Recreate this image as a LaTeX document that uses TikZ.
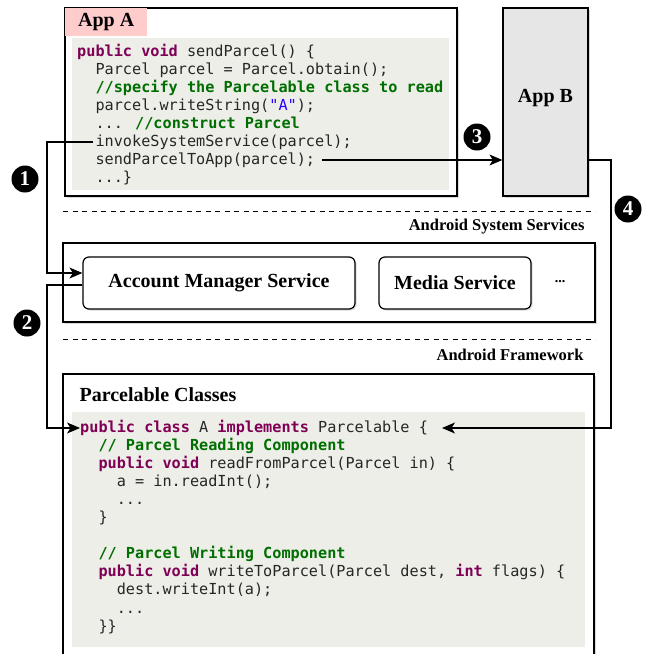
\documentclass[tikz,border=0pt]{standalone}
\usepackage{fontspec}
\setmainfont{Liberation Serif}
\newfontfamily\codefont{DejaVu Sans Mono}
\usetikzlibrary{arrows.meta, positioning, calc, shadows}

\definecolor{codebg}{HTML}{EEEEE9}
\definecolor{titlepink}{HTML}{FFCCCC}
\definecolor{appgray}{HTML}{E6E6E6}
\definecolor{kwpurple}{RGB}{127,0,85}
\definecolor{cmgreen}{RGB}{0,110,0}
\definecolor{strblue}{RGB}{42,0,255}

\newcommand{\kw}[1]{\textcolor{kwpurple}{\bfseries #1}}
\newcommand{\cmt}[1]{\textcolor{cmgreen}{\bfseries #1}}
\newcommand{\strlit}[1]{\textcolor{strblue}{#1}}
\newcommand{\indt}[1]{\hspace*{#1\dimexpr 0.602em\relax}}

\begin{document}
\begin{tikzpicture}[
        x=1pt, y=-1pt,
        every node/.style={font=\fontsize{20}{24}\selectfont\bfseries},
        panel/.style={rectangle,draw,line width=1.2pt,fill=white,inner sep=0,
          drop shadow={shadow xshift=1.5pt,shadow yshift=-1.5pt,opacity=0.3}},
        service/.style={panel,rounded corners=6pt},
        codebox/.style={rectangle,fill=codebg,inner sep=0},
        code/.style={font=\codefont\fontsize{15.2}{18.1}\selectfont,align=left,
          inner sep=0,anchor=north west,text=black!85},
        layer/.style={font=\fontsize{16.5}{20}\selectfont\bfseries,anchor=east},
        badge/.style={circle,fill=black,text=white,inner sep=0,minimum size=27pt,
          font=\fontsize{21}{22}\selectfont\bfseries},
        sepline/.style={dashed,dash pattern=on 5pt off 4.5pt,line width=1pt},
        flow/.style={draw,line width=1.1pt,-{Stealth[length=13pt,width=11pt,inset=3.5pt]}}
      ]
      \useasboundingbox (0,0) rectangle (646,654);

      % App A with its code
      \node[panel,minimum width=392,minimum height=188] (appA) at (261,102) {};
      \node[fill=titlepink,anchor=north west,minimum width=82,minimum height=28,inner sep=0]
        (titleA) at ([xshift=0.6pt,yshift=-0.6pt]appA.north west) {App A};
      \node[codebox,minimum width=377,minimum height=152] (bgA) at (260.5,114) {};
      \node[code] (codeA) at (77,43.5) {%
        \kw{public void} sendParcel() \{\\
        \indt{2}Parcel parcel = Parcel.obtain();\\
        \indt{2}\cmt{//specify the Parcelable class to read}\\
        \indt{2}parcel.writeString(\strlit{"A"});\\
        \indt{2}... \cmt{//construct Parcel}\\
        \indt{2}invokeSystemService(parcel);\\
        \indt{2}sendParcelToApp(parcel);\\
        \indt{2}...\}};

      % App B
      \node[panel,fill=appgray,minimum width=85,minimum height=188] (appB) at (545.5,102) {};
      \node (appBlabel) at (545.5,98) {App B};

      % system services layer
      \draw[sepline] (63,211) -- (595,211);
      \node[layer] (syslabel) at (588,227) {Android System Services};
      \node[panel,minimum width=532,minimum height=79] (sysbox) at (329,282.5) {};
      \node[service,minimum width=272,minimum height=52] (ams) at (219,283) {Account Manager Service};
      \node[service,minimum width=152,minimum height=52] (media) at (455,283) {Media Service};
      \node[font=\fontsize{14}{16}\selectfont\bfseries] (more) at (560,282) {...};

      % framework layer
      \draw[sepline] (63,339) -- (595,339);
      \node[layer] (fwlabel) at (587,355) {Android Framework};
      \node[panel,minimum width=531,minimum height=284] (pc) at (328.5,516) {};
      \node[anchor=west] (pctitle) at (76,395) {Parcelable Classes};
      \node[codebox,minimum width=513,minimum height=235] (bgP) at (328.5,529.5) {};
      \node[code] (codeP) at (80,419.5) {%
        \kw{public class} A \kw{implements} Parcelable \{\\
        \indt{2}\cmt{// Parcel Reading Component}\\
        \indt{2}\kw{public void} readFromParcel(Parcel in) \{\\
        \indt{4}a = in.readInt();\\
        \indt{4}...\\
        \indt{2}\}\\
        \mbox{}\\
        \indt{2}\cmt{// Parcel Writing Component}\\
        \indt{2}\kw{public void} writeToParcel(Parcel dest, \kw{int} flags) \{\\
        \indt{4}dest.writeInt(a);\\
        \indt{4}...\\
        \indt{2}\}\}};

      % connector ends and rails
      \coordinate (invoke) at (93,142);
      \coordinate (sendapp) at (322,160);
      \coordinate (pcStart) at (80,428);
      \coordinate (pcEnd) at (442,428);
      \coordinate (railL) at (47,0);
      \coordinate (railR) at (611,0);
      \coordinate (amsIn) at ([yshift=10pt]ams.west);
      \coordinate (amsOut) at ([yshift=-2pt]ams.west);

      % flows
      \draw[flow] (invoke) -- (invoke -| railL) |- (amsIn);
      \draw[flow] (amsOut) -- (amsOut -| railL) |- (pcStart);
      \draw[flow] (sendapp) -- (sendapp -| appB.west);
      \draw[flow] (appB.east |- sendapp) -- (sendapp -| railR) |- (pcEnd);

      % step numbers
      \node[badge] (n1) at (25,179) {1};
      \node[badge] (n2) at (27,323) {2};
      \node[badge] (n3) at (477,137) {3};
      \node[badge] (n4) at (628,209) {4};
    \end{tikzpicture}
\end{document}
